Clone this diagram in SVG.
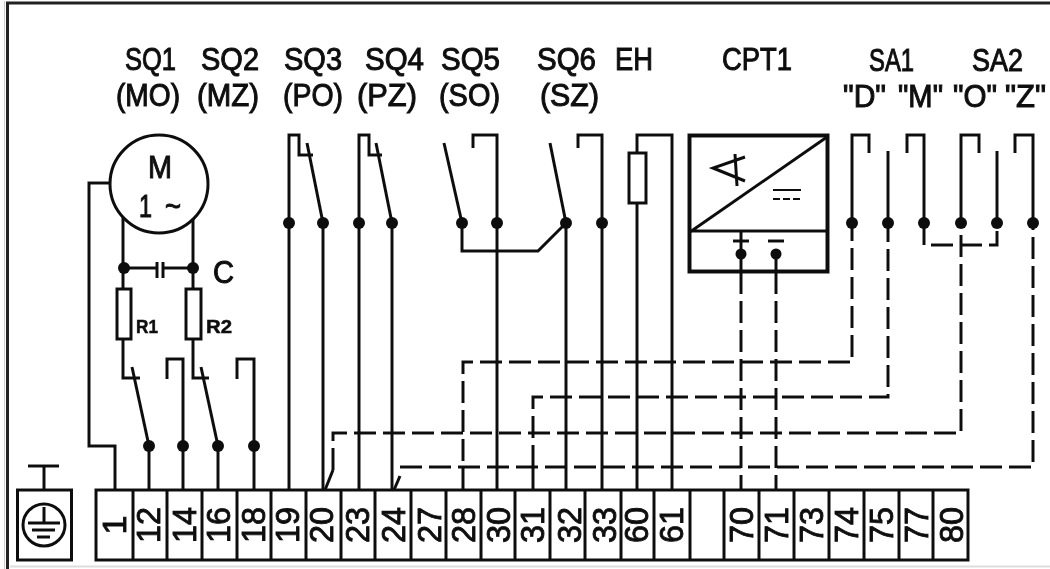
<svg xmlns="http://www.w3.org/2000/svg" width="1050" height="569" viewBox="0 0 1050 569">
<defs><style>
.w{fill:none;stroke:#111;stroke-width:3;stroke-linejoin:miter}
.d{fill:none;stroke:#111;stroke-width:3;stroke-dasharray:22 7}
.j{fill:#111;stroke:none}
.b{fill:#fff;stroke:#111;stroke-width:3}
text{font-family:"Liberation Sans",Arial,sans-serif;font-size:31px;fill:#111;stroke:#111;stroke-width:1}
.s{font-size:19px;font-weight:bold;stroke-width:.5}
.t{text-anchor:middle;font-size:34px;stroke-width:.9}
</style>
<filter id="soft" x="0" y="0" width="100%" height="100%"><feGaussianBlur stdDeviation="0.5"/></filter>
</defs>
<rect width="1050" height="569" fill="#fff"/>
<g filter="url(#soft)">
<g id="frame">
<path d="M7.500 569V3H1050" fill="none" stroke="#222" stroke-width="3"/>
<path d="M4.500 569V1" fill="none" stroke="#ccc" stroke-width="1"/>
<path d="M10 566.500H1050" fill="none" stroke="#ddd" stroke-width="2"/>
</g>
<g id="connectors">
<path class="w" d="M110 183H89V446H115V490"/>
<path class="w" d="M123 215V289M123 339V378H140M193 215V289M193 339V378H209"/>
<path class="w" d="M149 446V490M218 446V490"/>
<path class="w" d="M167 379V359H183V490M237 379V359H254V490"/>
<path class="w" d="M289 490V135H299V155H313M323 223V490"/>
<path class="w" d="M359 490V135H369V155H382M392 223V490"/>
<path class="w" d="M462 223V251H538L566 223V490"/>
<path class="w" d="M473 148V135H497V490M578 148V135H602V490"/>
<path class="w" d="M637 490V135H672V490"/>
<path class="w" d="M533 490V467"/>
<path class="w" d="M852 223V135H869V153M888 151V223M924 223V135H907V153M961 223V135H979V153M997 151V223M1033 223V135H1015V153"/>
<path class="w" d="M741 231V272M776 254V272"/>
<path class="w" d="M325 490L333 470M394 490L400 476"/>
<path class="d" d="M333 470V433H961V223"/>
<path class="d" d="M400 467H1033V223"/>
<path class="d" d="M463 490V362H852V223"/>
<path class="d" d="M533 467V397H888V223"/>
<path class="d" d="M741 272V490M776 272V490"/>
<path class="d" d="M924 223V245H997V223"/>
</g>
<g id="motor">
<circle class="b" cx="159" cy="184" r="49"/>
<text x="148" y="178" textLength="24" lengthAdjust="spacingAndGlyphs">M</text>
<text x="139" y="217" textLength="13" lengthAdjust="spacingAndGlyphs">1</text>
<text x="165" y="217" textLength="16" lengthAdjust="spacingAndGlyphs">~</text>
</g>
<g id="capacitor-c">
<path class="w" d="M123 268H157M163 268H193M157 262V278M163 262V278"/>
<circle class="j" cx="124" cy="268" r="6"/><circle class="j" cx="193" cy="268" r="6"/>
<text x="213" y="283" textLength="21" lengthAdjust="spacingAndGlyphs">C</text>
</g>
<g id="r1"><rect class="b" x="117" y="289" width="14" height="50"/><text class="s" x="136" y="333" textLength="22" lengthAdjust="spacingAndGlyphs">R1</text></g>
<g id="r2"><rect class="b" x="186" y="289" width="15" height="50"/><text class="s" x="206" y="333" textLength="26" lengthAdjust="spacingAndGlyphs">R2</text></g>
<g id="sq1">
<text x="125" y="70" textLength="51" lengthAdjust="spacingAndGlyphs">SQ1</text>
<text x="116" y="106" textLength="64" lengthAdjust="spacingAndGlyphs">(MO)</text>
<path class="w" d="M132 367L149 446"/><circle class="j" cx="149" cy="446" r="6"/><circle class="j" cx="183" cy="446" r="6"/>
</g>
<g id="sq2">
<text x="201" y="70" textLength="58" lengthAdjust="spacingAndGlyphs">SQ2</text>
<text x="197" y="106" textLength="62" lengthAdjust="spacingAndGlyphs">(MZ)</text>
<path class="w" d="M201 367L218 446"/><circle class="j" cx="218" cy="446" r="6"/><circle class="j" cx="254" cy="446" r="6"/>
</g>
<g id="sq3">
<text x="284" y="70" textLength="58" lengthAdjust="spacingAndGlyphs">SQ3</text>
<text x="283" y="106" textLength="60" lengthAdjust="spacingAndGlyphs">(PO)</text>
<path class="w" d="M307 143L323 223"/><circle class="j" cx="289" cy="223" r="6"/><circle class="j" cx="323" cy="223" r="6"/>
</g>
<g id="sq4">
<text x="365" y="70" textLength="59" lengthAdjust="spacingAndGlyphs">SQ4</text>
<text x="357" y="106" textLength="60" lengthAdjust="spacingAndGlyphs">(PZ)</text>
<path class="w" d="M376 143L392 223"/><circle class="j" cx="359" cy="223" r="6"/><circle class="j" cx="392" cy="223" r="6"/>
</g>
<g id="sq5">
<text x="441" y="70" textLength="59" lengthAdjust="spacingAndGlyphs">SQ5</text>
<text x="439" y="106" textLength="61" lengthAdjust="spacingAndGlyphs">(SO)</text>
<path class="w" d="M444 143L462 223"/><circle class="j" cx="462" cy="223" r="6"/><circle class="j" cx="497" cy="223" r="6"/>
</g>
<g id="sq6">
<text x="537" y="70" textLength="59" lengthAdjust="spacingAndGlyphs">SQ6</text>
<text x="540" y="106" textLength="59" lengthAdjust="spacingAndGlyphs">(SZ)</text>
<path class="w" d="M550 143L566 223"/><circle class="j" cx="566" cy="223" r="6"/><circle class="j" cx="602" cy="223" r="6"/>
</g>
<g id="eh">
<text x="615" y="70" textLength="38" lengthAdjust="spacingAndGlyphs">EH</text>
<rect class="b" x="629" y="153" width="17" height="50"/>
</g>
<g id="cpt1">
<text x="722" y="70" textLength="70" lengthAdjust="spacingAndGlyphs">CPT1</text>
<rect x="689.500" y="135.500" width="138" height="136" fill="none" stroke="#111" stroke-width="4"/>
<path class="w" d="M689 231H827M690 232L827 137"/>
<path d="M745 157L713 168L745 181M735 154L737 186" fill="none" stroke="#111" stroke-width="3"/>
<path d="M773 190H801" fill="none" stroke="#111" stroke-width="2"/>
<path d="M773 199H801" fill="none" stroke="#111" stroke-width="2" stroke-dasharray="7 3"/>
<path class="w" d="M733 241H749M768 241H784"/>
<circle class="j" cx="741" cy="254" r="5.500"/><circle class="j" cx="776" cy="254" r="5.500"/>
</g>
<g id="sa1">
<text x="869" y="71" textLength="45" lengthAdjust="spacingAndGlyphs">SA1</text>
<text x="843" y="107" textLength="43" lengthAdjust="spacingAndGlyphs">"D"</text>
<text x="898" y="107" textLength="45" lengthAdjust="spacingAndGlyphs">"M"</text>
<circle class="j" cx="852" cy="223" r="6"/><circle class="j" cx="888" cy="223" r="6"/><circle class="j" cx="924" cy="223" r="6"/>
</g>
<g id="sa2">
<text x="972" y="71" textLength="51" lengthAdjust="spacingAndGlyphs">SA2</text>
<text x="953" y="107" textLength="44" lengthAdjust="spacingAndGlyphs">"O"</text>
<text x="1005" y="107" textLength="41" lengthAdjust="spacingAndGlyphs">"Z"</text>
<circle class="j" cx="961" cy="223" r="6"/><circle class="j" cx="997" cy="223" r="6"/><circle class="j" cx="1033" cy="223" r="6"/>
</g>
<g id="earth">
<path class="w" d="M28 466H59M44 466V490"/>
<rect class="b" x="17.500" y="490" width="54" height="70"/>
<circle class="b" cx="44" cy="525" r="21"/>
<path class="w" d="M44 507V523M28 523H60"/>
<path class="w" d="M32 530H55M37 537H50"/>
</g>
<g id="terminals">
<rect class="b" x="96" y="490" width="872" height="70"/>
<path class="w" d="M133 490V560M167 490V560M202 490V560M237 490V560M271 490V560M306 490V560M341 490V560M375 490V560M411 490V560M446 490V560M481 490V560M515 490V560M550 490V560M585 490V560M621 490V560M654 490V560M690 490V560M724 490V560M759 490V560M794 490V560M829 490V560M864 490V560M899 490V560M933 490V560"/>
<text class="t" transform="translate(126 525) rotate(-90)">1</text>
<text class="t" transform="translate(160 525) rotate(-90)" textLength="36" lengthAdjust="spacingAndGlyphs">12</text>
<text class="t" transform="translate(196 525) rotate(-90)" textLength="36" lengthAdjust="spacingAndGlyphs">14</text>
<text class="t" transform="translate(230 525) rotate(-90)" textLength="36" lengthAdjust="spacingAndGlyphs">16</text>
<text class="t" transform="translate(265 525) rotate(-90)" textLength="36" lengthAdjust="spacingAndGlyphs">18</text>
<text class="t" transform="translate(299 525) rotate(-90)" textLength="36" lengthAdjust="spacingAndGlyphs">19</text>
<text class="t" transform="translate(333 525) rotate(-90)" textLength="36" lengthAdjust="spacingAndGlyphs">20</text>
<text class="t" transform="translate(369 525) rotate(-90)" textLength="36" lengthAdjust="spacingAndGlyphs">23</text>
<text class="t" transform="translate(405 525) rotate(-90)" textLength="36" lengthAdjust="spacingAndGlyphs">24</text>
<text class="t" transform="translate(441 525) rotate(-90)" textLength="36" lengthAdjust="spacingAndGlyphs">27</text>
<text class="t" transform="translate(475 525) rotate(-90)" textLength="36" lengthAdjust="spacingAndGlyphs">28</text>
<text class="t" transform="translate(510 525) rotate(-90)" textLength="36" lengthAdjust="spacingAndGlyphs">30</text>
<text class="t" transform="translate(544 525) rotate(-90)" textLength="36" lengthAdjust="spacingAndGlyphs">31</text>
<text class="t" transform="translate(581 525) rotate(-90)" textLength="36" lengthAdjust="spacingAndGlyphs">32</text>
<text class="t" transform="translate(616 525) rotate(-90)" textLength="36" lengthAdjust="spacingAndGlyphs">33</text>
<text class="t" transform="translate(648 525) rotate(-90)" textLength="36" lengthAdjust="spacingAndGlyphs">60</text>
<text class="t" transform="translate(683 525) rotate(-90)" textLength="36" lengthAdjust="spacingAndGlyphs">61</text>
<text class="t" transform="translate(753 525) rotate(-90)" textLength="36" lengthAdjust="spacingAndGlyphs">70</text>
<text class="t" transform="translate(788 525) rotate(-90)" textLength="36" lengthAdjust="spacingAndGlyphs">71</text>
<text class="t" transform="translate(823 525) rotate(-90)" textLength="36" lengthAdjust="spacingAndGlyphs">73</text>
<text class="t" transform="translate(858 525) rotate(-90)" textLength="36" lengthAdjust="spacingAndGlyphs">74</text>
<text class="t" transform="translate(893 525) rotate(-90)" textLength="36" lengthAdjust="spacingAndGlyphs">75</text>
<text class="t" transform="translate(928 525) rotate(-90)" textLength="36" lengthAdjust="spacingAndGlyphs">77</text>
<text class="t" transform="translate(963 525) rotate(-90)" textLength="36" lengthAdjust="spacingAndGlyphs">80</text>
</g>
</g>
</svg>
